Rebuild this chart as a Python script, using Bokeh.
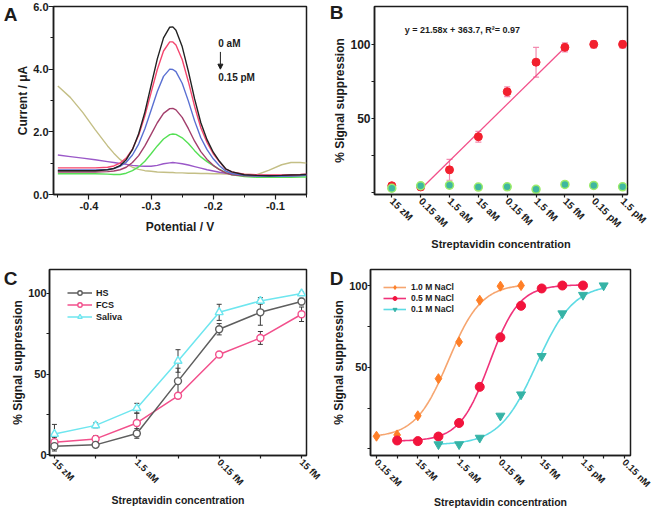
import math
import numpy as np
from bokeh.plotting import figure
from bokeh.layouts import column, row
from bokeh.models import (ColumnDataSource, Whisker, TeeHead, Label, Arrow, NormalHead,
                          FixedTicker, PrintfTickFormatter, Legend, LegendItem, Range1d,
                          LinearAxis)
from bokeh.embed import file_html
from bokeh.resources import INLINE

FONT = "Liberation Sans"
INK = "#1c1c1c"

# ---------------- Panel A : voltammograms ----------------
potential = [-0.45, -0.43, -0.41, -0.39, -0.37, -0.36, -0.35, -0.34, -0.33, -0.32, -0.31,
             -0.30, -0.29, -0.28, -0.27, -0.265, -0.26, -0.25, -0.24, -0.23, -0.22, -0.21,
             -0.20, -0.19, -0.18, -0.17, -0.15, -0.13, -0.11, -0.09, -0.075, -0.06, -0.05]
cur_1 = [0.76, 0.76, 0.76, 0.76, 0.79, 0.83, 0.92, 1.11, 1.43, 1.94, 2.63, 3.48, 4.33, 5.00,
         5.34, 5.35, 5.24, 4.72, 3.93, 3.05, 2.29, 1.75, 1.35, 1.06, 0.82, 0.72, 0.63, 0.61,
         0.60, 0.61, 0.62, 0.63, 0.64]
cur_2 = [0.85, 0.85, 0.85, 0.85, 0.87, 0.91, 1.00, 1.16, 1.45, 1.89, 2.51, 3.25, 3.99, 4.58,
         4.87, 4.87, 4.77, 4.31, 3.60, 2.81, 2.13, 1.66, 1.30, 1.04, 0.81, 0.72, 0.65, 0.63,
         0.62, 0.62, 0.63, 0.64, 0.65]
cur_3 = [0.78, 0.78, 0.78, 0.78, 0.80, 0.83, 0.90, 1.03, 1.26, 1.61, 2.10, 2.69, 3.29, 3.77,
         4.00, 3.99, 3.92, 3.55, 2.98, 2.35, 1.81, 1.43, 1.14, 0.92, 0.75, 0.67, 0.61, 0.59,
         0.58, 0.58, 0.59, 0.60, 0.61]
cur_4 = [0.72, 0.72, 0.72, 0.72, 0.73, 0.75, 0.79, 0.87, 1.02, 1.24, 1.55, 1.92, 2.29, 2.59,
         2.74, 2.75, 2.70, 2.46, 2.10, 1.70, 1.37, 1.12, 0.93, 0.79, 0.69, 0.63, 0.60, 0.59,
         0.59, 0.59, 0.60, 0.61, 0.62]
cur_5 = [0.66, 0.66, 0.66, 0.66, 0.65, 0.64, 0.64, 0.68, 0.76, 0.88, 1.06, 1.30, 1.55, 1.77,
         1.91, 1.93, 1.92, 1.81, 1.63, 1.40, 1.20, 1.05, 0.92, 0.80, 0.70, 0.63, 0.57, 0.55,
         0.55, 0.55, 0.55, 0.56, 0.56]
cur_6 = [1.26, 1.21, 1.16, 1.11, 1.05, 1.02, 0.99, 0.96, 0.93, 0.91, 0.90, 0.90, 0.93, 0.98,
         1.01, 1.02, 1.01, 0.98, 0.94, 0.89, 0.84, 0.79, 0.75, 0.71, 0.68, 0.66, 0.63, 0.62,
         0.61, 0.61, 0.62, 0.63, 0.64]
cur_7 = [3.46, 3.10, 2.62, 2.07, 1.55, 1.32, 1.12, 0.97, 0.87, 0.80, 0.76, 0.74, 0.72, 0.71,
         0.70, 0.70, 0.69, 0.69, 0.68, 0.68, 0.67, 0.67, 0.66, 0.66, 0.65, 0.65, 0.64, 0.63,
         0.78, 0.95, 1.02, 1.02, 1.00]
curves_A = [cur_7, cur_6, cur_5, cur_4, cur_3, cur_2, cur_1]
colors_A = ["#c4bf86", "#9a58c8", "#55e055", "#a33f6c", "#5a70d2", "#f4466e", "#222222"]

# ---------------- Panel B ----------------
conc_B = ["15 zM", "0.15 aM", "1.5 aM", "15 aM", "0.15 fM", "1.5 fM", "15 fM", "0.15 pM", "1.5 pM"]
supp_target = [4.8, 4.0, 15.5, 37.8, 68.1, 88.0, 98.0, 100.0, 100.0]
err_target = [1.5, 2.0, 7.0, 3.6, 3.3, 10.0, 3.0, 2.5, 2.5]
supp_control = [3.1, 4.8, 5.2, 3.9, 4.1, 2.4, 5.7, 5.0, 4.1]
fit_B = [19.1, -16.7]      # slope, intercept (in category-index units)
fit_B_span = [1, 6]

# ---------------- Panel C ----------------
conc_C = ["15 zM", "", "1.5 aM", "", "0.15 fM", "", "15 fM"]
hs = [5.2, 6.0, 13.1, 45.6, 77.8, 88.3, 95.0]
hs_err = [3.0, 1.5, 3.0, 8.0, 3.5, 8.0, 2.0]
fcs = [7.7, 9.7, 19.6, 36.5, 62.1, 72.4, 87.1]
fcs_err = [3.0, 2.0, 6.0, 1.0, 1.0, 4.0, 4.5]
saliva = [12.7, 18.1, 28.8, 58.1, 88.3, 95.4, 100.0]
saliva_err = [6.0, 1.5, 3.0, 7.0, 5.0, 2.0, 1.0]

# ---------------- Panel D ----------------
conc_D = ["0.15 zM", "", "15 zM", "", "1.5 aM", "", "0.15 fM", "", "15 fM", "", "1.5 pM", "", "0.15 nM"]
nacl10_x = [0, 1, 2, 3, 4, 5, 6, 7]
nacl10_y = [7.8, 8.6, 20.3, 43.0, 65.5, 91.0, 99.6, 100.0]
nacl05_x = [1, 2, 3, 4, 5, 6, 7, 8, 9, 10]
nacl05_y = [5.2, 4.8, 7.6, 15.9, 38.0, 68.3, 87.6, 98.2, 100.0, 100.0]
nacl01_x = [3, 4, 5, 6, 7, 8, 9, 10, 11]
nacl01_y = [2.8, 2.8, 6.8, 20.3, 33.3, 56.8, 82.9, 94.2, 100.0]
fit10 = [7.0, 101.0, 3.48, 0.80]   # bottom, top, x0, dx (Boltzmann fit)
fit05 = [4.8, 100.5, 5.47, 0.72]
fit01 = [2.5, 101.0, 7.75, 0.90]


def style(p, xsize="11px", ysize="11px", xlab="12px", ylab="12px"):
    p.outline_line_color = INK
    p.outline_line_width = 1.5
    p.outline_line_alpha = 1.0
    p.xgrid.grid_line_color = None
    p.ygrid.grid_line_color = None
    p.background_fill_color = "white"
    p.border_fill_color = "white"
    for ax, sz, ls in ((p.xaxis[0], xsize, xlab), (p.yaxis[0], ysize, ylab)):
        ax.axis_line_color = INK
        ax.axis_line_width = 1.5
        ax.major_tick_line_color = INK
        ax.minor_tick_line_color = INK
        ax.major_tick_line_width = 1.2
        ax.minor_tick_line_width = 1.0
        ax.major_tick_in = 0
        ax.major_tick_out = 4
        ax.minor_tick_in = 0
        ax.minor_tick_out = 3
        ax.major_label_text_font = FONT
        ax.major_label_text_font_style = "bold"
        ax.major_label_text_font_size = sz
        ax.major_label_text_color = INK
        ax.axis_label_text_font = FONT
        ax.axis_label_text_font_style = "bold"
        ax.axis_label_text_font_size = ls
        ax.axis_label_text_color = INK


def letter(p, text, pos, standoff):
    # panel letter drawn as the single label of a bare extra axis on the left
    p.extra_y_ranges = {"letter": Range1d(0, 100)}
    ax = LinearAxis(y_range_name="letter", ticker=FixedTicker(ticks=[pos]),
                    major_label_overrides={pos: text})
    ax.axis_line_color = None
    ax.major_tick_line_color = None
    ax.minor_tick_line_color = None
    ax.major_tick_in = 0
    ax.major_tick_out = 0
    ax.minor_tick_in = 0
    ax.minor_tick_out = 0
    ax.major_label_standoff = standoff
    ax.major_label_orientation = "horizontal"
    ax.major_label_text_font = FONT
    ax.major_label_text_font_style = "bold"
    ax.major_label_text_font_size = "19px"
    ax.major_label_text_color = INK
    p.add_layout(ax, "left")


# ================= Panel A =================
pA = figure(width=326, height=257, title=None, output_backend="svg", toolbar_location=None,
            x_range=Range1d(-0.457, -0.05), y_range=Range1d(0, 6.0),
            min_border_left=51, min_border_right=20, min_border_top=6, min_border_bottom=61)
style(pA)
for ys, c in zip(curves_A, colors_A):
    pA.line(potential, ys, line_color=c, line_width=1.4)
pA.xaxis.ticker = FixedTicker(ticks=[-0.4, -0.3, -0.2, -0.1],
                              minor_ticks=[-0.45, -0.35, -0.25, -0.15, -0.05])
pA.xaxis.formatter = PrintfTickFormatter(format="%.1f")
pA.yaxis.ticker = FixedTicker(ticks=[0, 2, 4, 6], minor_ticks=[1, 3, 5])
pA.yaxis.formatter = PrintfTickFormatter(format="%.1f")
pA.xaxis.major_tick_out = 5
pA.yaxis.major_tick_out = 5
pA.xaxis.major_label_standoff = 2
pA.yaxis.major_label_standoff = 0
pA.xaxis.axis_label_standoff = 7
pA.yaxis.axis_label_standoff = 0
pA.xaxis.axis_label = "Potential / V"
pA.yaxis.axis_label = "Current / \u03bcA"
pA.add_layout(Label(x=-0.192, y=4.82, text="0 aM", text_font=FONT, text_font_style="bold",
                    text_font_size="10px", text_color=INK, text_baseline="middle"))
pA.add_layout(Label(x=-0.192, y=3.73, text="0.15 pM", text_font=FONT, text_font_style="bold",
                    text_font_size="10px", text_color=INK, text_baseline="middle"))
pA.add_layout(Arrow(end=NormalHead(size=5, fill_color=INK, line_color=INK),
                    x_start=-0.1885, y_start=4.55, x_end=-0.1885, y_end=4.0,
                    line_color=INK, line_width=1))
letter(pA, "A", 96, -4)

# ================= Panel B =================
pB = figure(width=327, height=257, title=None, output_backend="svg", toolbar_location=None,
            x_range=Range1d(-0.6, 8.17), y_range=Range1d(-1.1, 125.5),
            min_border_left=40, min_border_right=26, min_border_top=5, min_border_bottom=63)
style(pB, xsize="10px", ysize="12px", xlab="11px", ylab="12px")
xB = list(range(len(conc_B)))
fx = np.array(fit_B_span, dtype=float)
pB.line(fx, fit_B[0] * fx + fit_B[1], line_color="#f2508a", line_width=1.3)
srcB = ColumnDataSource(dict(x=xB, upper=[v + e for v, e in zip(supp_target, err_target)],
                             lower=[v - e for v, e in zip(supp_target, err_target)]))
pB.add_layout(Whisker(source=srcB, base="x", upper="upper", lower="lower",
                      line_color="#f38bb0", line_width=1.2,
                      upper_head=TeeHead(size=6, line_color="#f38bb0", line_width=1.2),
                      lower_head=TeeHead(size=6, line_color="#f38bb0", line_width=1.2)))
pB.scatter(xB, supp_target, marker="circle", size=8, fill_color="#f2202e", line_color="#f2202e")
pB.scatter(xB, supp_control, marker="circle", size=8, fill_color="#3fb7a0",
           line_color="#9cec6a", line_width=1.5)
pB.xaxis.ticker = FixedTicker(ticks=xB)
pB.xaxis.major_label_overrides = {i: s for i, s in enumerate(conc_B)}
pB.xaxis.major_label_orientation = -math.pi / 4
pB.yaxis.ticker = FixedTicker(ticks=[0, 25, 50, 75, 100])
pB.yaxis.major_label_overrides = {0: "", 25: "", 50: "50", 75: "", 100: "100"}
pB.xaxis.major_tick_out = 3
pB.yaxis.major_tick_out = 3
pB.xaxis.major_label_standoff = 2
pB.yaxis.major_label_standoff = 1
pB.xaxis.axis_label_standoff = 2
pB.yaxis.axis_label_standoff = 0
pB.xaxis.axis_label = "Streptavidin concentration"
pB.yaxis.axis_label = "% Signal suppression"
pB.add_layout(Label(x=0.45, y=110, text="y = 21.58x + 363.7, R\u00b2= 0.97", text_font=FONT,
                    text_font_style="bold", text_font_size="9px", text_color=INK,
                    text_baseline="middle"))
letter(pB, "B", 97, -13)

# ================= Panel C =================
pC = figure(width=326, height=255, title=None, output_backend="svg", toolbar_location=None,
            x_range=Range1d(-0.12, 6.12), y_range=Range1d(-0.6, 114.9),
            min_border_left=49, min_border_right=20, min_border_top=12, min_border_bottom=56)
style(pC, xsize="9.5px", ysize="11px", xlab="10.5px", ylab="12px")
xC = list(range(len(conc_C)))
series_C = [("Saliva", saliva, saliva_err, "#6ee6ef", "triangle", 8),
            ("FCS", fcs, fcs_err, "#f2508c", "circle", 7),
            ("HS", hs, hs_err, "#5e5e5e", "circle", 7)]
items_C = {}
for name, ys, es, c, mk, sz in series_C:
    ln = pC.line(xC, ys, line_color=c, line_width=1.5)
    src = ColumnDataSource(dict(x=xC, upper=[v + e for v, e in zip(ys, es)],
                                lower=[v - e for v, e in zip(ys, es)]))
    pC.add_layout(Whisker(source=src, base="x", upper="upper", lower="lower",
                          line_color="#3a3a3a", line_width=1,
                          upper_head=TeeHead(size=5, line_color="#3a3a3a", line_width=1),
                          lower_head=TeeHead(size=5, line_color="#3a3a3a", line_width=1)))
    sc = pC.scatter(xC, ys, marker=mk, size=sz, fill_color="white", line_color=c, line_width=1.4)
    items_C[name] = [ln, sc]
legC = Legend(items=[LegendItem(label=n, renderers=items_C[n]) for n in ["HS", "FCS", "Saliva"]],
              location="top_left", margin=9, padding=9, spacing=1, glyph_width=25,
              glyph_height=11, label_height=11, label_standoff=4, label_text_font=FONT,
              label_text_font_style="bold", label_text_font_size="9px", label_text_color=INK,
              border_line_alpha=0, background_fill_alpha=0)
pC.add_layout(legC)
pC.xaxis.ticker = FixedTicker(ticks=xC)
pC.xaxis.major_label_overrides = {i: s for i, s in enumerate(conc_C)}
pC.xaxis.major_label_orientation = -math.pi / 4
pC.yaxis.ticker = FixedTicker(ticks=[0, 25, 50, 75, 100])
pC.yaxis.major_label_overrides = {0: "0", 25: "", 50: "50", 75: "", 100: "100"}
pC.xaxis.major_tick_out = 3
pC.yaxis.major_tick_out = 3
pC.xaxis.major_label_standoff = 2
pC.yaxis.major_label_standoff = 0
pC.xaxis.axis_label_standoff = 0
pC.yaxis.axis_label_standoff = 0
pC.xaxis.axis_label = "Streptavidin concentration"
pC.yaxis.axis_label = "% Signal suppression"
letter(pC, "C", 95, -9)

# ================= Panel D =================
pD = figure(width=327, height=255, title=None, output_backend="svg", toolbar_location=None,
            x_range=Range1d(-0.29, 12.3), y_range=Range1d(-4.0, 109.8),
            min_border_left=42, min_border_right=23, min_border_top=12, min_border_bottom=57)
style(pD, xsize="9.5px", ysize="11px", xlab="10.5px", ylab="12px")


def boltzmann(xs, prm):
    b, t, x0, dx = prm
    return b + (t - b) / (1.0 + np.exp(-(xs - x0) / dx))


series_D = [("1.0 M NaCl", nacl10_x, nacl10_y, fit10, "#f6a56f", "#ff7f27", "diamond", 10),
            ("0.5 M NaCl", nacl05_x, nacl05_y, fit05, "#f0327a", "#f2143c", "circle", 9),
            ("0.1 M NaCl", nacl01_x, nacl01_y, fit01, "#5ddbe4", "#36b3a6", "inverted_triangle", 9)]
items_D = []
for name, xs, ys, prm, lc, mc, mk, sz in series_D:
    xx = np.linspace(xs[0], xs[-1], 150)
    ln = pD.line(xx, boltzmann(xx, prm), line_color=lc, line_width=1.6)
    sc = pD.scatter(xs, ys, marker=mk, size=sz, fill_color=mc, line_color=mc)
    items_D.append(LegendItem(label=name, renderers=[ln, sc]))
legD = Legend(items=items_D, location="top_left", margin=6, padding=7, spacing=1,
              glyph_width=23, glyph_height=10, label_height=10, label_standoff=5,
              label_text_font=FONT, label_text_font_style="bold", label_text_font_size="8.5px",
              label_text_color=INK, border_line_alpha=0, background_fill_alpha=0)
pD.add_layout(legD)
xD = list(range(len(conc_D)))
pD.xaxis.ticker = FixedTicker(ticks=xD)
pD.xaxis.major_label_overrides = {i: s for i, s in enumerate(conc_D)}
pD.xaxis.major_label_orientation = -math.pi / 4
pD.yaxis.ticker = FixedTicker(ticks=[0, 25, 50, 75, 100])
pD.yaxis.major_label_overrides = {0: "", 25: "", 50: "50", 75: "", 100: "100"}
pD.xaxis.major_tick_out = 3
pD.yaxis.major_tick_out = 3
pD.xaxis.major_label_standoff = 2
pD.yaxis.major_label_standoff = 0
pD.xaxis.axis_label_standoff = 0
pD.yaxis.axis_label_standoff = 0
pD.xaxis.axis_label = "Streptavidin concentration"
pD.yaxis.axis_label = "% Signal suppression"
letter(pD, "D", 95, -14)

layout = column(row(pA, pB), row(pC, pD))
open("out.html", "w").write(file_html(layout, INLINE))
